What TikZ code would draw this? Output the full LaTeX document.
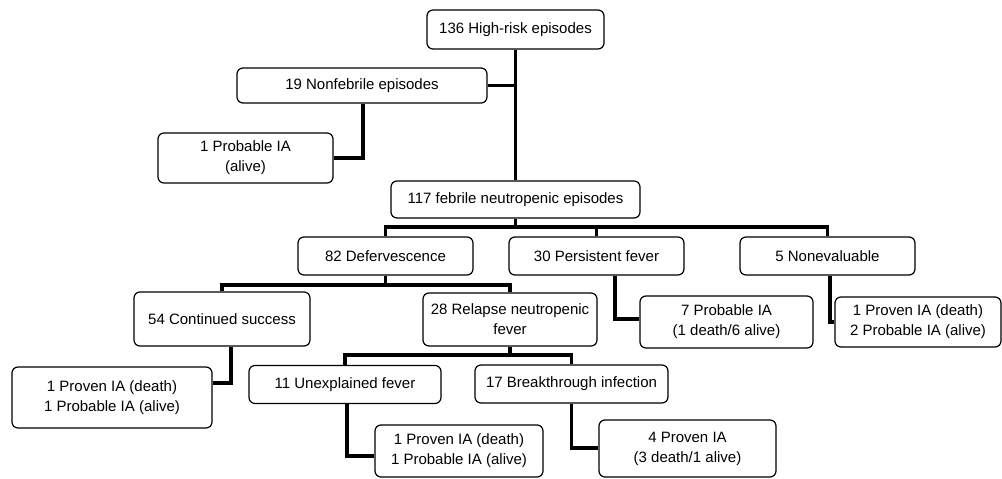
\documentclass[tikz,border=0pt]{standalone}
\usepackage{fontspec}
\setmainfont{Liberation Sans}
\begin{document}
\begin{tikzpicture}[x=1pt,y=-1pt,
  box/.style={draw=black,line width=1.2pt,rounded corners=6pt,fill=white,
    align=center,inner sep=0pt,font=\fontsize{15}{20}\selectfont},
  conn/.style={draw=black,line width=3.2pt}]
\useasboundingbox (0,0) rectangle (1002,479);
% nodes
\node[box,minimum width=177pt,minimum height=39pt] (A) at (515.5,29.5) {136 High-risk episodes};
\node[box,minimum width=250pt,minimum height=35pt] (B) at (362,85.5) {19 Nonfebrile episodes};
\node[box,minimum width=175pt,minimum height=50pt] (C) at (245.5,158) {1 Probable IA\\(alive)};
\node[box,minimum width=249pt,minimum height=37pt] (D) at (515.5,199.5) {117 febrile neutropenic episodes};
\node[box,minimum width=175pt,minimum height=38pt] (E) at (385.5,256) {82 Defervescence};
\node[box,minimum width=175pt,minimum height=38pt] (F) at (596.5,256) {30 Persistent fever};
\node[box,minimum width=175pt,minimum height=38pt] (G) at (827.5,256) {5 Nonevaluable};
\node[box,minimum width=176pt,minimum height=54pt] (H) at (222,319) {54 Continued success};
\node[box,minimum width=174pt,minimum height=53pt] (I) at (510,319.5) {28 Relapse neutropenic\\fever};
\node[box,minimum width=173pt,minimum height=52pt] (J) at (726.5,322) {7 Probable IA\\(1 death/6 alive)};
\node[box,minimum width=166pt,minimum height=50pt] (K) at (918,322) {1 Proven IA (death)\\2 Probable IA (alive)};
\node[box,minimum width=200pt,minimum height=61pt] (L) at (112,397.5) {1 Proven IA (death)\\1 Probable IA (alive)};
\node[box,minimum width=192pt,minimum height=38pt] (M) at (345,384.5) {11 Unexplained fever};
\node[box,minimum width=193pt,minimum height=38pt] (N) at (571.5,384) {17 Breakthrough infection};
\node[box,minimum width=168pt,minimum height=52pt] (O) at (459,451) {1 Proven IA (death)\\1 Probable IA (alive)};
\node[box,minimum width=177pt,minimum height=57pt] (P) at (687.5,448.5) {4 Proven IA\\(3 death/1 alive)};
% connectors
\draw[conn] (A.south) -- (D.north);
\draw[conn] (B.east) -- (B.east -| A.south);
\draw[conn] (B.south -| 363,0) |- (C.east);
\draw[conn] (D.south) -- (D.south |- 0,227);
\draw[conn] (E.north) -- (E.north |- 0,227) -- (G.north |- 0,227) -- (G.north);
\draw[conn] (F.north) -- (F.north |- 0,227);
\draw[conn] (E.south) -- (E.south |- 0,285);
\draw[conn] (H.north) -- (H.north |- 0,285) -- (I.north |- 0,285) -- (I.north);
\draw[conn] (H.south -| 231,0) |- (L.east |- 0,383);
\draw[conn] (I.south) -- (I.south |- 0,355);
\draw[conn] (M.north) -- (M.north |- 0,355) -- (N.north |- 0,355) -- (N.north);
\draw[conn] (M.south -| 347,0) |- (O.west |- 0,456);
\draw[conn] (N.south) |- (P.west |- 0,448);
\draw[conn] (F.south -| 615,0) |- (J.west |- 0,319);
\draw[conn] (G.south -| 830,0) |- (K.west |- 0,322);
\end{tikzpicture}
\end{document}
